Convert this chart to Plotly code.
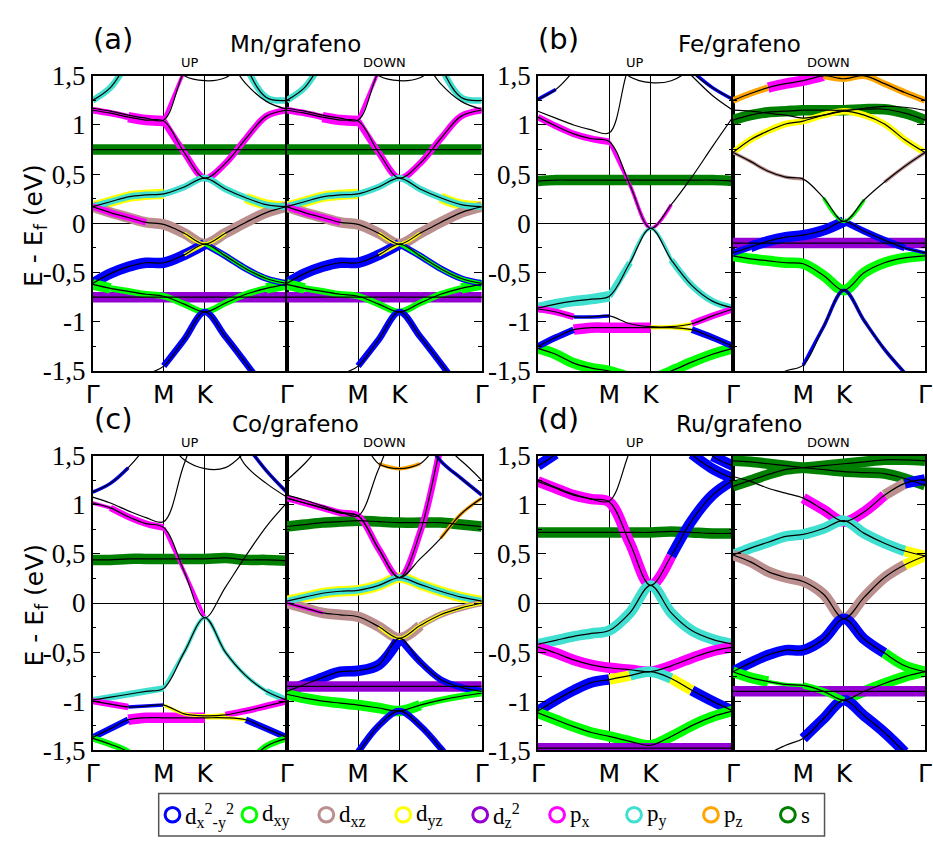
import plotly.graph_objects as go

# ---------------- data ----------------
K_PATH = [0.0, 0.144, 0.289, 0.433, 0.577, 0.744, 0.911, 1.078, 1.244, 1.411, 1.577]
K_TICKS = [0.0, 0.577, 0.911, 1.577]
K_LABELS_UP = ["Γ", "M", "K", "Γ"]
K_LABELS_DOWN = ["", "M", "K", "Γ"]
Y_TICKS = [-1.5, -1.0, -0.5, 0.0, 0.5, 1.0, 1.5]
Y_LABELS = ["-1,5", "-1", "-0,5", "0", "0,5", "1", "1,5"]

ORBITALS = ["dx2", "dxy", "dxz", "dyz", "dz2", "px", "py", "pz", "s"]
ORB_LABELS = ["d<sub>x</sub><sup>2</sup><sub>-y</sub><sup>2</sup>", "d<sub>xy</sub>", "d<sub>xz</sub>",
              "d<sub>yz</sub>", "d<sub>z</sub><sup>2</sup>", "p<sub>x</sub>", "p<sub>y</sub>",
              "p<sub>z</sub>", "s"]
ORB_COLORS = {"dx2": "#0000ff", "dxy": "#00ff00", "dxz": "#bc8f8f", "dyz": "#ffff00",
              "dz2": "#9400d3", "px": "#ff00ff", "py": "#40e0d0", "pz": "#ffa500", "s": "#008000"}

# each band: (energies at K_PATH, {orbital: weight per k-interval})
MN_UP = [
    ([0.75, 0.75, 0.75, 0.75, 0.75, 0.75, 0.75, 0.75, 0.75, 0.75, 0.75], {"s": "3333333333"}),
    ([-0.75, -0.75, -0.75, -0.75, -0.75, -0.75, -0.75, -0.75, -0.75, -0.75, -0.75], {"dz2": "3333333333"}),
    ([1.15, 1.12, 1.08, 1.05, 1.04, 0.72, 0.46, 0.61, 0.86, 1.09, 1.15], {"px": "2233222222"}),
    ([1.17, 1.14, 1.10, 1.07, 1.05, 1.55, 1.85, 1.70, 1.42, 1.24, 1.16], {"px": "0000100000"}),
    ([2.20, 2.10, 2.00, 1.85, 1.70, 1.50, 1.45, 1.48, 1.65, 1.90, 2.10], {}),
    ([1.25, 1.38, 1.65, 1.90, 2.10, 2.20, 2.20, 2.10, 1.60, 1.28, 1.25], {"py": "2200000022"}),
    ([0.17, 0.22, 0.27, 0.29, 0.30, 0.37, 0.46, 0.35, 0.26, 0.19, 0.17], {"dyz": "3333000033", "py": "2222222222"}),
    ([0.17, 0.11, 0.06, 0.01, -0.01, -0.10, -0.21, -0.10, 0.01, 0.11, 0.17],
     {"dxz": "3333333333", "px": "2220000000", "dyz": "0000011000"}),
    ([-0.61, -0.51, -0.44, -0.40, -0.40, -0.32, -0.21, -0.33, -0.46, -0.56, -0.61],
     {"dx2": "3333332222", "dyz": "0000010000", "dxy": "0000001111"}),
    ([-0.62, -0.66, -0.69, -0.72, -0.74, -0.82, -0.90, -0.81, -0.72, -0.66, -0.62], {"dxy": "3222222223"}),
    ([-2.40, -2.10, -1.80, -1.55, -1.45, -1.18, -0.90, -1.15, -1.42, -1.70, -2.00], {"dx2": "0000222220"}),
]
MN_DOWN = MN_UP

FE_UP = [
    ([0.43, 0.44, 0.44, 0.44, 0.44, 0.44, 0.44, 0.44, 0.44, 0.44, 0.43], {"s": "3333333333"}),
    ([1.08, 0.99, 0.91, 0.86, 0.83, 0.39, -0.05, 0.19, 0.47, 0.78, 1.08], {"px": "2222111000"}),
    ([-0.86, -0.82, -0.79, -0.77, -0.74, -0.40, -0.05, -0.37, -0.63, -0.79, -0.86], {"py": "3333211222"}),
    ([1.14, 1.07, 1.00, 0.95, 0.92, 1.62, 1.90, 1.72, 1.50, 1.30, 1.15], {}),
    ([2.20, 2.10, 2.00, 1.85, 1.70, 1.49, 1.43, 1.45, 1.58, 1.85, 2.10], {}),
    ([1.26, 1.36, 1.55, 1.80, 2.00, 2.10, 2.10, 2.00, 1.55, 1.38, 1.26], {"dx2": "1000000011"}),
    ([-0.87, -0.90, -0.95, -0.95, -0.94, -1.02, -1.05, -1.05, -1.02, -0.94, -0.87],
     {"px": "2200000022", "dx2": "0011000000", "dyz": "0000001100"}),
    ([-1.25, -1.16, -1.08, -1.06, -1.06, -1.06, -1.06, -1.06, -1.08, -1.16, -1.25],
     {"dx2": "2200000022", "px": "0033330000", "dyz": "0000001100"}),
    ([-1.27, -1.33, -1.42, -1.47, -1.50, -1.56, -1.58, -1.50, -1.41, -1.33, -1.27], {"dxy": "3333333333"}),
]
FE_DOWN = [
    ([-0.20, -0.20, -0.20, -0.20, -0.20, -0.20, -0.20, -0.20, -0.20, -0.20, -0.20], {"dz2": "3333333333"}),
    ([0.72, 0.63, 0.53, 0.47, 0.45, 0.26, 0.02, 0.24, 0.42, 0.58, 0.72], {"dxz": "1111000011", "dxy": "0000011000"}),
    ([-0.30, -0.24, -0.18, -0.14, -0.12, -0.07, 0.02, -0.08, -0.17, -0.25, -0.30], {"dx2": "2333332221"}),
    ([-0.33, -0.36, -0.38, -0.40, -0.41, -0.53, -0.68, -0.50, -0.40, -0.35, -0.33], {"dxy": "3333333333"}),
    ([-2.00, -1.80, -1.60, -1.50, -1.44, -1.05, -0.68, -0.99, -1.28, -1.52, -1.80], {"dx2": "0000111110"}),
    ([0.72, 0.85, 0.94, 1.01, 1.04, 1.10, 1.14, 1.10, 1.01, 0.85, 0.72], {"dyz": "2222222222"}),
    ([1.05, 1.10, 1.13, 1.14, 1.15, 1.15, 1.15, 1.16, 1.16, 1.12, 1.05], {"s": "3333333333"}),
    ([1.15, 1.14, 1.12, 1.10, 1.07, 1.10, 1.14, 1.17, 1.19, 1.18, 1.15], {}),
    ([1.25, 1.32, 1.38, 1.42, 1.45, 1.50, 1.47, 1.50, 1.42, 1.33, 1.25], {"pz": "2200022222", "px": "0033300000"}),
]

CO_UP = [
    ([0.44, 0.44, 0.45, 0.45, 0.45, 0.45, 0.45, 0.46, 0.44, 0.44, 0.43], {"s": "3333333333"}),
    ([1.02, 0.97, 0.88, 0.81, 0.77, 0.32, -0.15, 0.16, 0.48, 0.78, 1.02], {"px": "1222110000"}),
    ([-0.99, -0.96, -0.93, -0.90, -0.87, -0.50, -0.15, -0.50, -0.74, -0.90, -0.99], {"py": "2222111112"}),
    ([1.08, 1.02, 0.94, 0.87, 0.83, 1.42, 1.90, 1.75, 1.40, 1.22, 1.08], {}),
    ([2.20, 2.10, 2.00, 1.85, 1.70, 1.46, 1.37, 1.38, 1.55, 1.85, 2.10], {}),
    ([1.13, 1.22, 1.38, 1.60, 1.90, 2.10, 2.10, 1.90, 1.62, 1.35, 1.13], {"dx2": "1100000011"}),
    ([-1.00, -1.03, -1.06, -1.05, -1.04, -1.13, -1.15, -1.14, -1.10, -1.05, -1.00],
     {"px": "2200000222", "dx2": "0011000000", "dyz": "0000111000"}),
    ([-1.37, -1.28, -1.19, -1.17, -1.17, -1.17, -1.17, -1.17, -1.19, -1.28, -1.37],
     {"dx2": "2200000022", "px": "0033330000", "dyz": "0000001100"}),
    ([-1.38, -1.44, -1.52, -1.70, -1.80, -1.85, -1.90, -1.80, -1.65, -1.46, -1.38], {"dxy": "2222222222"}),
]
CO_DOWN = [
    ([0.78, 0.80, 0.82, 0.83, 0.84, 0.83, 0.82, 0.82, 0.82, 0.80, 0.78], {"s": "3333333333"}),
    ([1.07, 1.02, 0.97, 0.92, 0.89, 0.55, 0.26, 0.72, 1.60, 2.40, 3.00], {"px": "2222222200"}),
    ([1.10, 1.05, 0.99, 0.93, 0.89, 1.37, 1.80, 1.75, 1.45, 1.27, 1.10], {"dx2": "0000000111"}),
    ([1.07, 1.02, 0.97, 0.92, 0.89, 0.55, 0.26, 0.45, 0.66, 0.91, 1.07], {"pz": "0000000011"}),
    ([0.02, 0.06, 0.10, 0.12, 0.13, 0.18, 0.26, 0.19, 0.12, 0.06, 0.02], {"dyz": "3333333333", "py": "2222222222"}),
    ([0.00, -0.05, -0.10, -0.12, -0.14, -0.24, -0.36, -0.23, -0.12, -0.05, 0.00],
     {"dxz": "3333333222", "px": "1100000000", "dyz": "0000011111"}),
    ([-0.90, -0.83, -0.76, -0.70, -0.69, -0.63, -0.36, -0.60, -0.78, -0.86, -0.90], {"dx2": "3333332222"}),
    ([-0.85, -0.85, -0.85, -0.85, -0.85, -0.85, -0.85, -0.85, -0.85, -0.85, -0.85], {"dz2": "3333333333"}),
    ([-0.93, -0.97, -1.00, -1.02, -1.04, -1.07, -1.10, -1.04, -0.99, -0.95, -0.92], {"dxy": "3333333222"}),
    ([-2.30, -2.10, -1.90, -1.70, -1.52, -1.25, -1.10, -1.25, -1.48, -1.75, -2.00], {"dx2": "0000222220"}),
    ([1.25, 1.42, 1.62, 1.75, 1.70, 1.42, 1.37, 1.42, 1.60, 1.45, 1.25], {"pz": "0000011000"}),
]

RU_UP = [
    ([0.72, 0.72, 0.72, 0.72, 0.72, 0.72, 0.72, 0.73, 0.72, 0.71, 0.71], {"s": "3333333333"}),
    ([1.24, 1.17, 1.10, 1.06, 1.03, 0.61, 0.18, 0.48, 0.84, 1.10, 1.25], {"px": "3333333000", "dx2": "0000000333"}),
    ([1.26, 1.18, 1.11, 1.06, 1.04, 1.55, 2.00, 1.90, 1.52, 1.37, 1.27], {"dx2": "0000000033"}),
    ([-0.42, -0.38, -0.34, -0.31, -0.28, -0.10, 0.18, -0.10, -0.28, -0.37, -0.42], {"py": "3333333333"}),
    ([-0.45, -0.51, -0.58, -0.63, -0.66, -0.68, -0.70, -0.64, -0.56, -0.49, -0.45], {"px": "3333333333"}),
    ([-1.10, -0.99, -0.89, -0.81, -0.78, -0.74, -0.70, -0.77, -0.89, -1.00, -1.10],
     {"dx2": "3333000033", "dyz": "0000300300", "py": "0000033000"}),
    ([-1.12, -1.19, -1.26, -1.32, -1.36, -1.41, -1.45, -1.36, -1.25, -1.16, -1.10], {"dxy": "3333333333"}),
    ([-1.48, -1.48, -1.48, -1.48, -1.48, -1.48, -1.48, -1.48, -1.48, -1.48, -1.48], {"dz2": "3333333333"}),
    ([1.40, 1.52, 1.75, 2.00, 2.20, 2.30, 2.30, 2.20, 1.80, 1.50, 1.40], {"dx2": "3000000003"}),
]
RU_DOWN = [
    ([1.45, 1.44, 1.42, 1.40, 1.38, 1.36, 1.34, 1.33, 1.32, 1.27, 1.20], {"s": "3333333333"}),
    ([1.19, 1.25, 1.31, 1.36, 1.38, 1.40, 1.42, 1.44, 1.46, 1.46, 1.45], {"s": "3333333333"}),
    ([1.29, 1.24, 1.17, 1.12, 1.07, 0.95, 0.83, 0.93, 1.10, 1.22, 1.26],
     {"px": "0000333300", "dxz": "0000000030", "dx2": "0000000003"}),
    ([0.49, 0.56, 0.62, 0.68, 0.70, 0.76, 0.84, 0.71, 0.61, 0.53, 0.48], {"py": "3333333330", "dyz": "0000000003"}),
    ([0.49, 0.42, 0.32, 0.26, 0.22, 0.09, -0.16, 0.06, 0.26, 0.39, 0.48], {"dxz": "3333333330", "dyz": "0000000003"}),
    ([-0.70, -0.61, -0.53, -0.48, -0.48, -0.37, -0.16, -0.37, -0.51, -0.64, -0.70], {"dx2": "3333333300", "dxy": "0000000033"}),
    ([-0.70, -0.76, -0.80, -0.83, -0.84, -0.90, -0.99, -0.90, -0.82, -0.75, -0.70], {"dxy": "3311223333"}),
    ([-0.90, -0.90, -0.90, -0.90, -0.90, -0.90, -0.90, -0.90, -0.90, -0.90, -0.90], {"dz2": "3333333333"}),
    ([-2.00, -1.80, -1.55, -1.45, -1.38, -1.18, -0.99, -1.15, -1.32, -1.52, -1.70], {"dx2": "0000333330"}),
]

PANELS = [
    ("(a)", "Mn/grafeno", MN_UP, MN_DOWN),
    ("(b)", "Fe/grafeno", FE_UP, FE_DOWN),
    ("(c)", "Co/grafeno", CO_UP, CO_DOWN),
    ("(d)", "Ru/grafeno", RU_UP, RU_DOWN),
]

# ---------------- layout geometry (pixels) ----------------
W, H = 933, 852
COLS = [((87, 284), (284, 482)), ((539, 737), (737, 932))]
ROWS = [(63, 369), (457, 762)]
WIDTH_OF = {1: 3.5, 2: 6.5, 3: 10.5}
SANS = "DejaVu Sans"
SERIF = "Liberation Serif"


def px_x(p):
    return p / W


def px_y(p):
    return 1 - p / H


def runs(weights):
    out = []
    i = 0
    n = len(weights)
    while i < n:
        if weights[i] == "0":
            i += 1
            continue
        j = i
        while j + 1 < n and weights[j + 1] == weights[i]:
            j += 1
        out.append((i, j + 1, int(weights[i])))
        i = j + 1
    return out


fig = go.Figure()
annotations = []
layout_axes = {}

for p, (letter, title, up, down) in enumerate(PANELS):
    r, c = divmod(p, 2)
    for s, bands in enumerate((up, down)):
        n = p * 2 + s + 1
        suf = "" if n == 1 else str(n)
        xref, yref = "x" + suf, "y" + suf
        segs = []
        order = 0
        for energies, proj in bands:
            for orb, w in proj.items():
                for a, b, wt in runs(w):
                    segs.append((-WIDTH_OF[wt], order, orb, a, b, energies))
                    order += 1
        segs.sort(key=lambda t: (t[0], t[1]))
        for negw, _, orb, a, b, energies in segs:
            fig.add_trace(go.Scatter(
                x=K_PATH[a:b + 1], y=energies[a:b + 1], mode="lines",
                line=dict(color=ORB_COLORS[orb], width=-negw, shape="spline", smoothing=1.0),
                xaxis=xref, yaxis=yref, hoverinfo="skip", showlegend=False))
        for energies, proj in bands:
            fig.add_trace(go.Scatter(
                x=K_PATH, y=energies, mode="lines",
                line=dict(color="black", width=1.2, shape="spline", smoothing=1.0),
                xaxis=xref, yaxis=yref, hoverinfo="skip", showlegend=False))

        xd = COLS[c][s]
        yd = ROWS[r]
        layout_axes["xaxis" + suf] = dict(
            domain=[px_x(xd[0]), px_x(xd[1])], range=[K_PATH[0], K_PATH[-1]], anchor=yref,
            tickmode="array", tickvals=K_TICKS,
            ticktext=K_LABELS_UP if s == 0 else K_LABELS_DOWN,
            ticks="", showgrid=True, gridcolor="black", gridwidth=1,
            showline=True, linecolor="black", linewidth=1.5, mirror=True,
            zeroline=False, tickfont=dict(family=SANS, size=25, color="black"),
            fixedrange=True)
        layout_axes["yaxis" + suf] = dict(
            domain=[px_y(yd[1]), px_y(yd[0])], range=[-1.5, 1.5], anchor=xref,
            tickmode="array", tickvals=Y_TICKS, ticktext=Y_LABELS,
            showticklabels=(s == 0),
            ticks="inside", ticklen=8, tickwidth=1, tickcolor="black",
            minor=dict(tickvals=[-1.25, -0.75, -0.25, 0.25, 0.75, 1.25],
                       ticks="inside", ticklen=4, tickwidth=1, tickcolor="black"),
            showline=True, linecolor="black", linewidth=1.5, mirror="ticks",
            showgrid=False, zeroline=True, zerolinecolor="black", zerolinewidth=1,
            tickfont=dict(family=SERIF, size=27, color="black"),
            ticklabelstandoff=0, fixedrange=True)

    left = COLS[c][0][0]
    right = COLS[c][1][1]
    top = ROWS[r][0]
    annotations.append(dict(x=px_x(left + 21), y=px_y(top - 38), xref="paper", yref="paper",
                            text=letter, showarrow=False, xanchor="center", yanchor="middle",
                            font=dict(family=SANS, size=29, color="black")))
    annotations.append(dict(x=px_x((left + right) / 2 + 8), y=px_y(top - 33), xref="paper", yref="paper",
                            text=title, showarrow=False, xanchor="center", yanchor="middle",
                            font=dict(family=SANS, size=23, color="black")))
    for s, lab in enumerate(("UP", "DOWN")):
        xd = COLS[c][s]
        annotations.append(dict(x=px_x((xd[0] + xd[1]) / 2), y=px_y(top - 14), xref="paper", yref="paper",
                                text=lab, showarrow=False, xanchor="center", yanchor="middle",
                                font=dict(family=SANS, size=13, color="black")))
    if c == 0:
        annotations.append(dict(x=px_x(29), y=px_y((ROWS[r][0] + ROWS[r][1]) / 2 + 2),
                                xref="paper", yref="paper", textangle=-90,
                                text="E - E<sub>f</sub> (eV)", showarrow=False,
                                xanchor="center", yanchor="middle",
                                font=dict(family=SANS, size=25, color="black")))

# ---------------- manual legend ----------------
shapes = [dict(type="rect", xref="paper", yref="paper",
               x0=px_x(154), x1=px_x(830), y0=px_y(851), y1=px_y(807),
               line=dict(color="#555555", width=1.5), fillcolor="white", layer="above")]
for i, orb in enumerate(ORBITALS):
    cx = 168 + 78.1 * i
    cy = 829
    rr = 7.5
    shapes.append(dict(type="circle", xref="paper", yref="paper",
                       x0=px_x(cx - rr), x1=px_x(cx + rr), y0=px_y(cy + rr), y1=px_y(cy - rr),
                       line=dict(color=ORB_COLORS[orb], width=3), layer="above"))
    annotations.append(dict(x=px_x(cx + 11), y=px_y(cy + 1), xref="paper", yref="paper",
                            text=ORB_LABELS[i], showarrow=False, xanchor="left", yanchor="middle",
                            font=dict(family=SERIF, size=23, color="black")))

fig.update_layout(
    width=W, height=H, margin=dict(l=0, r=0, t=0, b=0),
    paper_bgcolor="white", plot_bgcolor="white",
    showlegend=False, annotations=annotations, shapes=shapes,
    **layout_axes)

fig.write_html("out.html")
